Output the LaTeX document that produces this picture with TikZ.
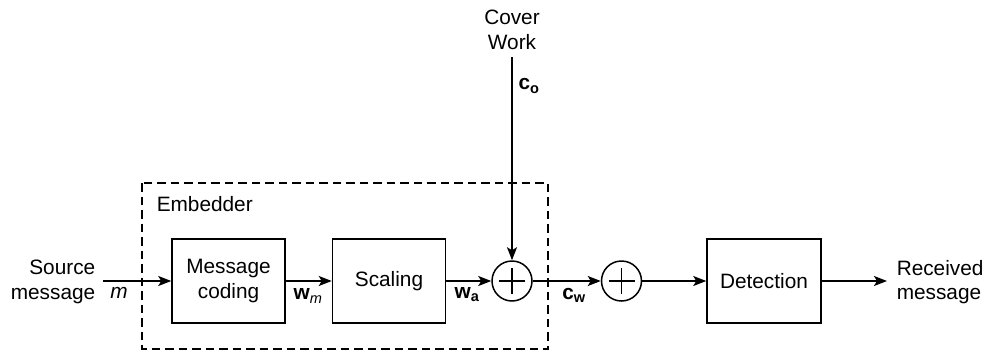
\documentclass[tikz,border=0pt]{standalone}
\usepackage{fontspec}
\setmainfont{Liberation Sans}
\usetikzlibrary{arrows.meta}
\begin{document}
\begin{tikzpicture}[x=1pt,y=-1pt,
  font=\fontsize{20.8}{24.5}\selectfont,
  line width=1.5pt,
  box/.style={draw, minimum width=113pt, minimum height=84pt, align=center, inner sep=0pt},
  sumnode/.style={draw, circle, minimum size=40pt, inner sep=0pt,
    path picture={\draw[line width=1.3pt] (path picture bounding box.center) +(0pt,13pt) -- +(0pt,-13pt) +(-13pt,0pt) -- +(13pt,0pt);}},
  lbl/.style={inner sep=0pt},
  arr/.style={-{Stealth[length=13pt,width=10pt,inset=3pt]}},
  dashbox/.style={draw, dash pattern=on 8.5pt off 5pt, line width=1.4pt}
]
\useasboundingbox (0,0) rectangle (989,354);
% dashed embedder frame
\draw[dashbox] (142,183) rectangle (548,349);
\node[lbl, anchor=west] (emb) at (156,204) {Embedder};
% blocks
\node[box] (mc) at (228.5,281) {Message\\coding};
\node[box] (sc) at (389,281) {Scaling};
\node[sumnode] (s1) at (512,281) {};
\node[sumnode] (s2) at (621.5,281) {};
\node[box, minimum width=114pt] (det) at (764,281) {Detection};
% texts
\node[lbl, anchor=east, align=right] (src) at (96,282) {Source\\message};
\node[lbl, anchor=west, align=left] (rcv) at (896,282) {Received\\message};
\node[lbl, align=center] (cov) at (512,30) {Cover\\Work};
\coordinate (srcend) at (103,281);
\coordinate (rcvend) at (887,281);
\coordinate (covend) at (512,57);
% connectors
\draw[arr] (srcend) -- (mc);
\draw[arr] (mc) -- (sc);
\draw[arr] (sc) -- (s1);
\draw[arr] (covend) -- (s1);
\draw[arr] (s1) -- (s2);
\draw[arr] (s2) -- (det);
\draw[arr] (det) -- (rcvend);
% signal labels
\node[lbl] (lm) at (119,293) {\textit{m}};
\node[lbl] (lwm) at (308,296) {\textbf{w}\textsubscript{\textit{m}}};
\node[lbl] (lwa) at (467,295) {\textbf{w}\textsubscript{\textbf{a}}};
\node[lbl] (lcw) at (574,295) {\textbf{c}\textsubscript{\textbf{w}}};
\node[lbl] (lco) at (529,86) {\textbf{c}\textsubscript{\textbf{o}}};
\end{tikzpicture}
\end{document}
